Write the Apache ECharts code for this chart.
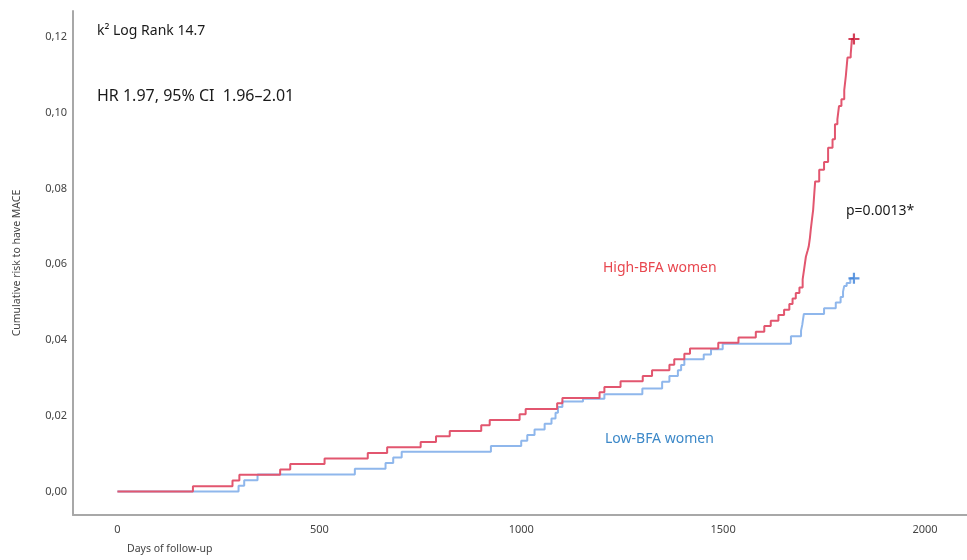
<!DOCTYPE html>
<html>
<head>
<meta charset="utf-8">
<script src="https://cdn.jsdelivr.net/npm/echarts@6/dist/echarts.min.js"></script>
<style>html,body{margin:0;padding:0;background:#fff;}#chart{width:967px;height:560px;}</style>
</head>
<body>
<div id="chart"></div>
<script>
// ---- data ----
const xTicks = [0, 500, 1000, 1500, 2000];
const yTicks = [0, 0.02, 0.04, 0.06, 0.08, 0.10, 0.12];

const highDays = [0,187,285,302,403,428,513,620,668,751,789,823,901,922,996,1011,1089,1102,1194,1206,1246,1301,1324,1367,1379,1404,1418,1488,1538,1581,1602,1618,1637,1651,1664,1672,1680,1689,1697,1701,1705,1709,1712,1715,1717,1720,1723,1726,1728,1738,1750,1760,1771,1777,1783,1787,1793,1800,1804,1808,1816,1819,1824];
const highRisk = [0,0.0014,0.0029,0.0044,0.0058,0.0073,0.0087,0.0102,0.0117,0.0131,0.0146,0.0160,0.0175,0.0189,0.0204,0.0218,0.0233,0.0247,0.0262,0.0276,0.0291,0.0305,0.0320,0.0335,0.0349,0.0364,0.0378,0.0393,0.0407,0.0422,0.0437,0.0451,0.0466,0.0480,0.0495,0.0510,0.0524,0.0539,0.0560,0.0590,0.0620,0.0635,0.0647,0.0670,0.0691,0.0718,0.0744,0.0790,0.0819,0.0850,0.0870,0.0908,0.0930,0.0970,0.0983,0.1018,0.1036,0.1060,0.1098,0.1146,0.1155,0.1195,0.1195];

const lowDays = [0,300,314,347,588,664,683,704,925,1000,1015,1033,1058,1075,1085,1091,1102,1153,1206,1300,1349,1367,1388,1396,1404,1452,1470,1499,1668,1693,1696,1698,1700,1750,1779,1791,1797,1800,1806,1815,1824];
const lowRisk = [0,0.0015,0.0030,0.0045,0.0060,0.0075,0.0090,0.0105,0.0120,0.0134,0.0149,0.0164,0.0179,0.0193,0.0208,0.0223,0.0238,0.0245,0.0257,0.0272,0.0290,0.0305,0.0320,0.0334,0.0349,0.0362,0.0376,0.0390,0.0410,0.0425,0.0440,0.0455,0.0469,0.0484,0.0499,0.0514,0.0528,0.0543,0.0551,0.0563,0.0563];

const highName = 'High-BFA women';
const lowName = 'Low-BFA women';
const statText1 = 'k² Log Rank 14.7';
const statText2 = 'HR 1.97, 95% CI  1.96–2.01';
const pText = 'p=0.0013*';
const xName = 'Days of follow-up';
const yName = 'Cumulative risk to have MACE';

// ---- build ----
const zip = (a, b) => a.map((d, i) => [d, b[i]]);
const highData = zip(highDays, highRisk);
const lowData = zip(lowDays, lowRisk);
const FONT = '"Noto Sans", "Open Sans", sans-serif';
const plus = 'path://M4,0H6V4H10V6H6V10H4V6H0V4H4Z';

const chart = echarts.init(document.getElementById('chart'), null, {renderer: 'canvas'});
chart.setOption({
  animation: false,
  backgroundColor: '#ffffff',
  grid: {left: 73, right: 0, top: 11, bottom: 45, containLabel: false},
  xAxis: {
    type: 'value', min: -110, max: 2104,
    axisLine: {show: true, onZero: false, lineStyle: {color: '#a8a8a8', width: 2}},
    axisTick: {show: false},
    splitLine: {show: false},
    axisLabel: {customValues: xTicks, color: '#444', fontSize: 11, fontFamily: FONT, margin: 9,
      formatter: v => String(Math.round(v))}
  },
  yAxis: {
    type: 'value', min: -0.0062, max: 0.1269,
    name: yName, nameLocation: 'middle', nameRotate: 90, nameGap: 50,
    nameTextStyle: {color: '#444', fontSize: 10.5, fontFamily: FONT},
    axisLine: {show: true, onZero: false, lineStyle: {color: '#a8a8a8', width: 2}},
    axisTick: {show: false},
    splitLine: {show: false},
    axisLabel: {customValues: yTicks, color: '#444', fontSize: 11, fontFamily: FONT, margin: 6,
      formatter: v => v.toFixed(2).replace('.', ',')}
  },
  series: [
    {type: 'line', name: lowName, step: 'end', data: lowData, showSymbol: false, z: 2,
      lineStyle: {color: '#8fb7ec', width: 2}},
    {type: 'line', name: highName, step: 'end', data: highData, showSymbol: false, z: 3,
      lineStyle: {color: '#e2566f', width: 2}},
    {type: 'scatter', data: [highData[highData.length - 1]], symbol: plus, symbolSize: 11, z: 4,
      itemStyle: {color: '#c8102e'}},
    {type: 'scatter', data: [lowData[lowData.length - 1]], symbol: plus, symbolSize: 11, z: 4,
      itemStyle: {color: '#3a80d8'}}
  ],
  graphic: [
    {type: 'text', left: 97, top: 24, style: {text: statText1, fontSize: 14, fontFamily: FONT, fill: '#1a1a1a'}},
    {type: 'text', left: 97, top: 88, style: {text: statText2, fontSize: 16, fontFamily: FONT, fill: '#1a1a1a'}},
    {type: 'text', left: 846, top: 204, style: {text: pText, fontSize: 14, fontFamily: FONT, fill: '#1a1a1a'}},
    {type: 'text', left: 603, top: 261, style: {text: highName, fontSize: 14, fontFamily: FONT, fill: '#e8474f'}},
    {type: 'text', left: 605, top: 432, style: {text: lowName, fontSize: 14, fontFamily: FONT, fill: '#3c88c8'}},
    {type: 'text', left: 127, top: 544, style: {text: xName, fontSize: 10.5, fontFamily: FONT, fill: '#444'}}
  ]
});
</script>
</body>
</html>
